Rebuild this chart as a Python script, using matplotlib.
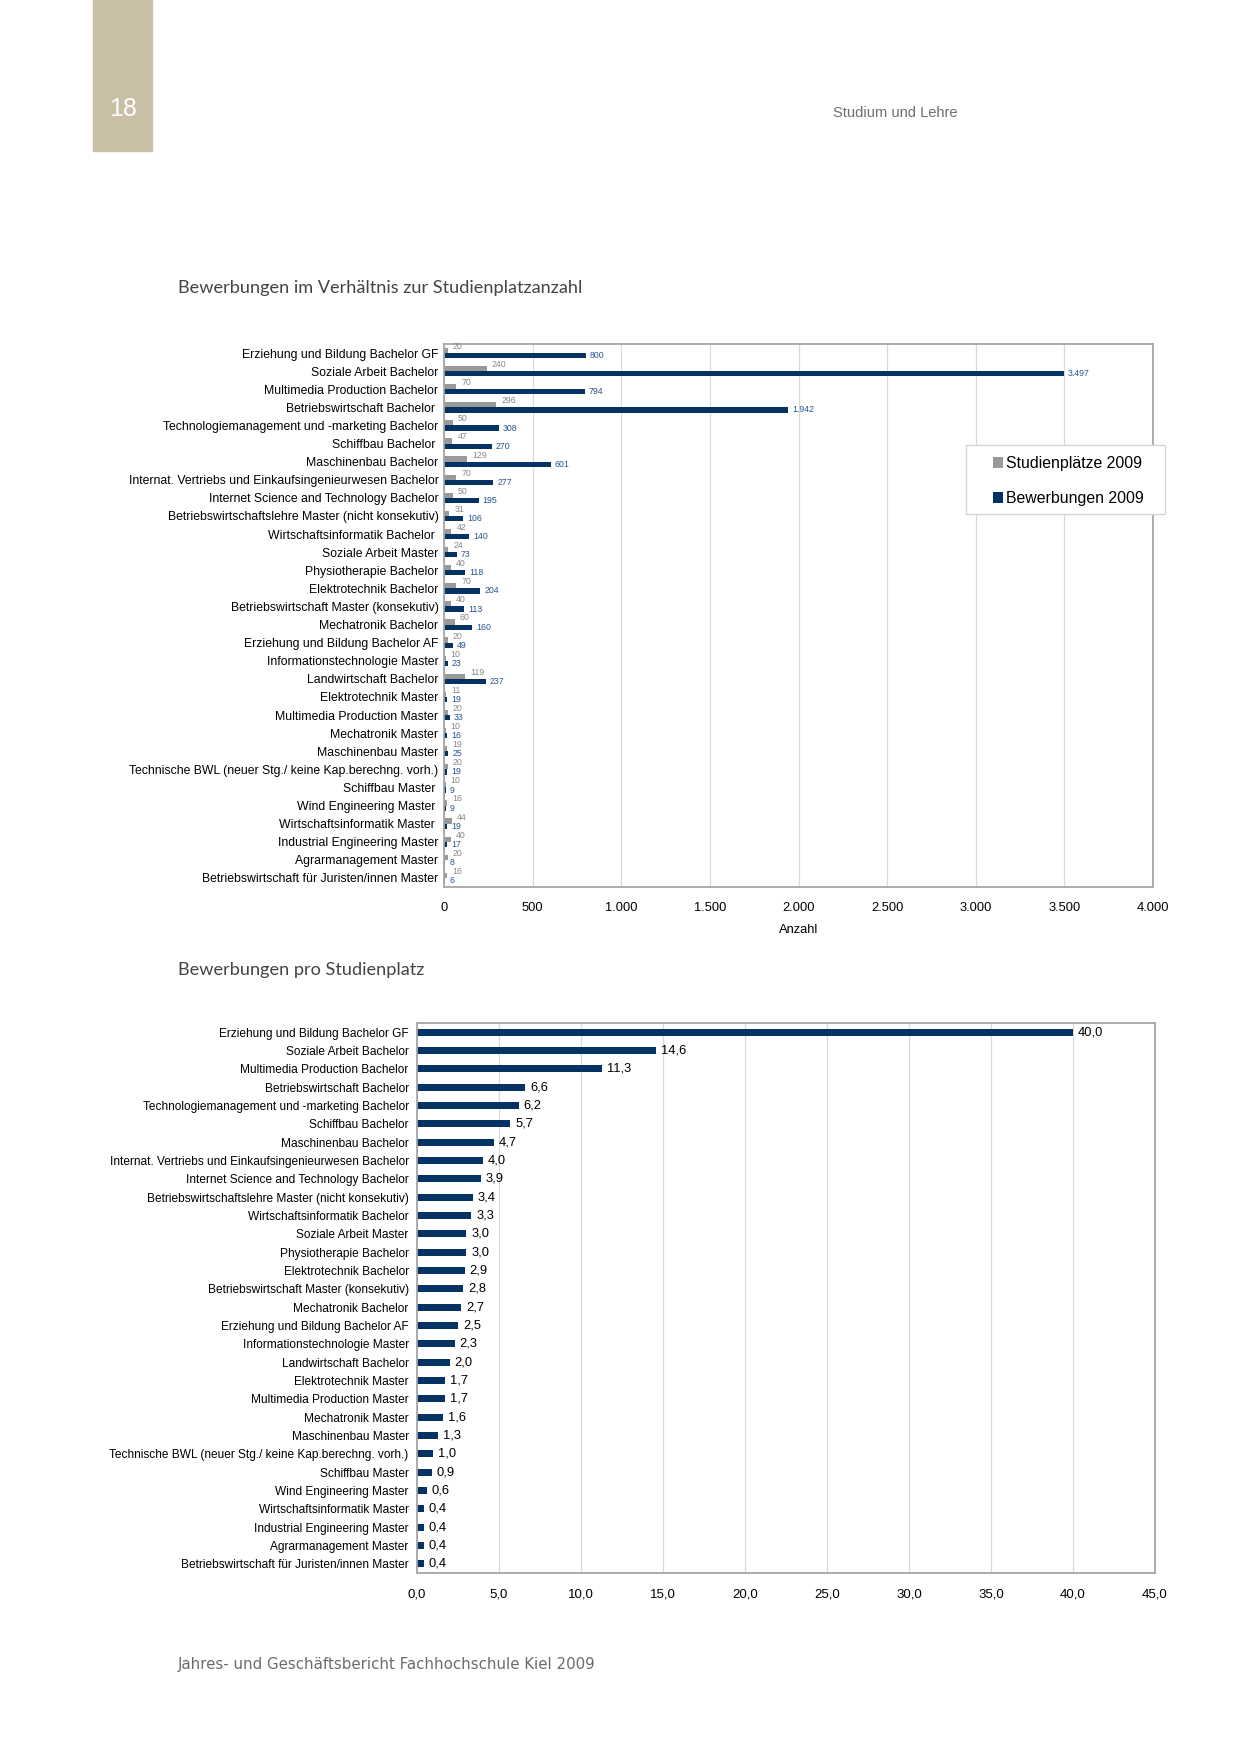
import matplotlib
matplotlib.use("Agg")
import matplotlib.pyplot as plt
from matplotlib.ticker import FuncFormatter
from matplotlib.patches import Rectangle

plt.rcParams['font.family'] = ['Liberation Sans', 'DejaVu Sans']

categories = [
    "Erziehung und Bildung Bachelor GF",
    "Soziale Arbeit Bachelor",
    "Multimedia Production Bachelor",
    "Betriebswirtschaft Bachelor ",
    "Technologiemanagement und -marketing Bachelor",
    "Schiffbau Bachelor ",
    "Maschinenbau Bachelor",
    "Internat. Vertriebs und Einkaufsingenieurwesen Bachelor",
    "Internet Science and Technology Bachelor",
    "Betriebswirtschaftslehre Master (nicht konsekutiv)",
    "Wirtschaftsinformatik Bachelor ",
    "Soziale Arbeit Master",
    "Physiotherapie Bachelor",
    "Elektrotechnik Bachelor",
    "Betriebswirtschaft Master (konsekutiv)",
    "Mechatronik Bachelor",
    "Erziehung und Bildung Bachelor AF",
    "Informationstechnologie Master",
    "Landwirtschaft Bachelor",
    "Elektrotechnik Master",
    "Multimedia Production Master",
    "Mechatronik Master",
    "Maschinenbau Master",
    "Technische BWL (neuer Stg./ keine Kap.berechng. vorh.)",
    "Schiffbau Master ",
    "Wind Engineering Master ",
    "Wirtschaftsinformatik Master ",
    "Industrial Engineering Master",
    "Agrarmanagement Master",
    "Betriebswirtschaft für Juristen/innen Master",
]

studienplaetze_2009 = [20, 240, 70, 296, 50, 47, 129, 70, 50, 31, 42, 24, 40, 70, 40,
                       60, 20, 10, 119, 11, 20, 10, 19, 20, 10, 16, 44, 40, 20, 16]
bewerbungen_2009 = [800, 3497, 794, 1942, 308, 270, 601, 277, 195, 106, 140, 73, 118, 204, 113,
                    160, 49, 23, 237, 19, 33, 16, 25, 19, 9, 9, 19, 17, 8, 6]
bewerbungen_pro_platz = [40.0, 14.6, 11.3, 6.6, 6.2, 5.7, 4.7, 4.0, 3.9, 3.4, 3.3, 3.0, 3.0, 2.9, 2.8,
                         2.7, 2.5, 2.3, 2.0, 1.7, 1.7, 1.6, 1.3, 1.0, 0.9, 0.6, 0.4, 0.4, 0.4, 0.4]

x_ticks_1 = [0, 500, 1000, 1500, 2000, 2500, 3000, 3500, 4000]
x_ticks_2 = [0, 5, 10, 15, 20, 25, 30, 35, 40, 45]

NAVY = "#033263"
GREY = "#999999"
NAVY_TXT = "#2a5590"
GREY_TXT = "#888888"
SPINE = "#a6a6a6"
GRID = "#d9d9d9"

W, H = 1241, 1754
fig = plt.figure(figsize=(W / 100, H / 100), dpi=100)

def fx(px):
    return px / W

def fy(py):
    return 1 - py / H

# page decoration
fig.patches.append(Rectangle((fx(93), fy(151)), fx(152) - fx(93), fy(0) - fy(151),
                             transform=fig.transFigure, color="#c9bea6", zorder=0))
fig.text(fx(123), fy(109), "18", color="white", fontsize=18, ha="center", va="center",
         family=['Liberation Sans Narrow', 'Liberation Sans', 'DejaVu Sans'])
fig.text(fx(833), fy(113), "Studium und Lehre", color="#6e6e6e", fontsize=10.5, ha="left", va="center",
         family=['Liberation Sans Narrow', 'Liberation Sans', 'DejaVu Sans'])
fig.text(fx(178), fy(288), "Bewerbungen im Verhältnis zur Studienplatzanzahl", color="#444444",
         fontsize=13.1, ha="left", va="center", family=['Lato', 'DejaVu Sans'])
fig.text(fx(178), fy(970), "Bewerbungen pro Studienplatz", color="#444444",
         fontsize=13.1, ha="left", va="center", family=['Lato', 'DejaVu Sans'])
fig.text(fx(178), fy(1665), "Jahres- und Geschäftsbericht Fachhochschule Kiel 2009", color="#6c6c6c",
         fontsize=10.8, ha="left", va="center", family=['DejaVu Sans'])

def de_int(v, pos=None):
    return f"{int(round(v)):,}".replace(",", ".")

def de_dec(v, pos=None):
    return f"{v:.1f}".replace(".", ",")

def style_axes(ax):
    for s in ax.spines.values():
        s.set_color(SPINE)
        s.set_linewidth(1.3)
    ax.grid(axis="x", color=GRID, linewidth=0.9)
    ax.set_axisbelow(True)
    ax.tick_params(axis="both", length=0)

n = len(categories)
ypos = list(range(n))

# ---------- chart 1 ----------
ax1 = fig.add_axes([fx(444), fy(887), fx(1153) - fx(444), fy(344) - fy(887)])
style_axes(ax1)
off = 0.145
bh = 0.29
b_grey = ax1.barh([y - off for y in ypos], studienplaetze_2009, height=bh, color=GREY,
                  label="Studienplätze 2009")
b_navy = ax1.barh([y + off for y in ypos], bewerbungen_2009, height=bh, color=NAVY,
                  label="Bewerbungen 2009")
for y, v in zip(ypos, studienplaetze_2009):
    ax1.annotate(de_int(v), (v, y - off), xytext=(5, 4), textcoords="offset pixels",
                 fontsize=6.3, color=GREY_TXT, va="center", ha="left")
for y, v in zip(ypos, bewerbungen_2009):
    ax1.annotate(de_int(v), (v, y + off), xytext=(4, 0), textcoords="offset pixels",
                 fontsize=6.3, color=NAVY_TXT, va="center", ha="left")
ax1.set_xlim(0, 4000)
ax1.set_ylim(n - 0.5, -0.5)
ax1.set_xticks(x_ticks_1)
ax1.xaxis.set_major_formatter(FuncFormatter(de_int))
ax1.set_yticks(ypos)
ax1.set_yticklabels(categories, fontsize=8.8)
ax1.tick_params(axis="y", pad=4)
ax1.tick_params(axis="x", pad=10.5, labelsize=9.3)
ax1.set_xlabel("Anzahl", fontsize=9.3, labelpad=7.5)

# legend: frame box drawn at figure level, entries on top of it
fig.patches.append(Rectangle((fx(966), fy(514)), fx(1165) - fx(966), fy(445) - fy(514),
                             transform=fig.transFigure, facecolor="white", edgecolor="#d4d4d4",
                             linewidth=1.0, zorder=4))
leg = fig.legend(handles=[b_grey, b_navy], loc="upper left",
                 bbox_to_anchor=(fx(993), fy(456)), bbox_transform=fig.transFigure,
                 fontsize=11.4, frameon=False, handlelength=0.65,
                 handleheight=0.65, handletextpad=0.2, labelspacing=1.27,
                 borderpad=0, borderaxespad=0)
leg.set_zorder(6)

# ---------- chart 2 ----------
ax2 = fig.add_axes([fx(417), fy(1573), fx(1155) - fx(417), fy(1023) - fy(1573)])
style_axes(ax2)
ax2.barh(ypos, bewerbungen_pro_platz, height=0.38, color=NAVY)
for y, v in zip(ypos, bewerbungen_pro_platz):
    ax2.annotate(de_dec(v), (v, y), xytext=(5, 0), textcoords="offset pixels",
                 fontsize=9.3, color="black", va="center", ha="left")
ax2.set_xlim(0, 45)
ax2.set_ylim(n - 0.5, -0.5)
ax2.set_xticks(x_ticks_2)
ax2.xaxis.set_major_formatter(FuncFormatter(de_dec))
ax2.set_yticks(ypos)
ax2.set_yticklabels([c.rstrip() for c in categories], fontsize=8.6)
ax2.tick_params(axis="y", pad=6)
ax2.tick_params(axis="x", pad=11, labelsize=9.5)

fig.savefig("out.png", dpi=100)
